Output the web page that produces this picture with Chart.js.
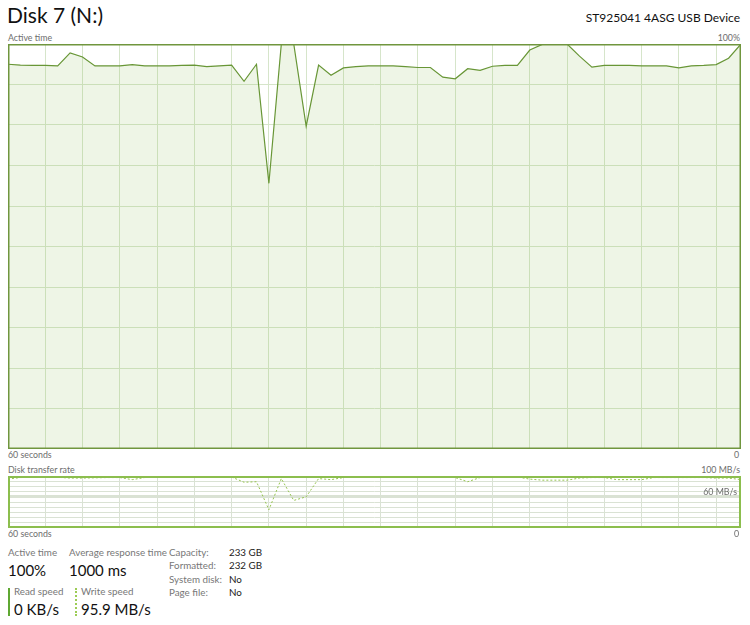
<!DOCTYPE html>
<html>
<head>
<meta charset="utf-8">
<script src="https://cdn.jsdelivr.net/npm/chart.js@4/dist/chart.umd.min.js"></script>
<style>
  body { margin: 0; width: 750px; height: 625px; background: #fff; position: relative; overflow: hidden;
         font-family: "Segoe UI", Lato, "Open Sans", sans-serif; }
  .t { position: absolute; white-space: nowrap; line-height: 1; }
  .small { font-size: 8.8px; color: #6d6d6d; }
  .lab { font-size: 9.8px; color: #777; }
  .val { font-size: 15px; color: #111; }
  .info { font-size: 9.8px; color: #222; }
  canvas { position: absolute; }
</style>
</head>
<body>
<div class="t" style="left:7px;top:4px;font-size:21px;color:#111;">Disk 7 (N:)</div>
<div class="t" style="right:10px;top:12px;font-size:12px;color:#111;">ST925041 4ASG USB Device</div>

<div class="t small" style="left:8px;top:34px;">Active time</div>
<div class="t small" style="right:10px;top:34px;">100%</div>
<canvas id="activeChart" width="733" height="405" style="left:8px;top:44px;"></canvas>
<div class="t small" style="left:8px;top:451px;">60 seconds</div>
<div class="t small" style="right:11px;top:451px;">0</div>

<div class="t small" style="left:8px;top:466px;">Disk transfer rate</div>
<div class="t small" style="right:10px;top:466px;">100 MB/s</div>
<canvas id="rateChart" width="733" height="52" style="left:8px;top:476px;"></canvas>
<div class="t small" style="right:13px;top:488px;">60 MB/s</div>
<div class="t small" style="left:8px;top:530px;">60 seconds</div>
<div class="t small" style="right:11px;top:530px;">0</div>

<div class="t lab" style="left:8px;top:548px;">Active time</div>
<div class="t val" style="left:8px;top:563px;">100%</div>
<div class="t lab" style="left:69px;top:548px;">Average response time</div>
<div class="t val" style="left:69px;top:563px;">1000 ms</div>

<div style="position:absolute;left:8px;top:588px;width:0;height:28px;border-left:2px solid #5fa832;"></div>
<div class="t lab" style="left:14px;top:587px;">Read speed</div>
<div class="t val" style="left:14px;top:602px;">0 KB/s</div>
<div style="position:absolute;left:75px;top:588px;width:0;height:28px;border-left:2px dotted #9ccc55;"></div>
<div class="t lab" style="left:81px;top:587px;">Write speed</div>
<div class="t val" style="left:81px;top:602px;">95.9 MB/s</div>

<div class="t lab" style="left:169px;top:548px;">Capacity:</div>
<div class="t info" style="left:229px;top:548px;">233 GB</div>
<div class="t lab" style="left:169px;top:561px;">Formatted:</div>
<div class="t info" style="left:229px;top:561px;">232 GB</div>
<div class="t lab" style="left:169px;top:575px;">System disk:</div>
<div class="t info" style="left:229px;top:575px;">No</div>
<div class="t lab" style="left:169px;top:588px;">Page file:</div>
<div class="t info" style="left:229px;top:588px;">No</div>

<script>
// 60 one-second samples, oldest first
const seconds = Array.from({length: 60}, (_, i) => i);

const activeTime = [
  95.0, 94.8, 94.7, 94.7, 94.6, 97.8, 96.8, 94.6, 94.6, 94.6,
  94.9, 94.6, 94.6, 94.6, 94.7, 94.8, 94.4, 94.6, 94.8, 90.8,
  95.0, 65.6, 100, 100, 79.7, 94.8, 92.3, 94.1, 94.4, 94.6,
  94.6, 94.6, 94.4, 94.2, 94.2, 91.8, 91.4, 93.9, 93.5, 94.5,
  94.7, 94.7, 98.5, 99.9, 100, 100, 97.0, 94.3, 94.7, 94.7,
  94.7, 94.6, 94.6, 94.6, 94.1, 94.6, 94.7, 94.9, 96.5, 100
];

// MB/s
const writeSpeed = [
  94, 97, 97.5, 97.5, 97.5, 96, 96, 96.5, 97, 97,
  93, 97, 97.5, 97.5, 97.5, 97.5, 97.5, 97.5, 98, 88,
  89, 35, 95, 53, 60, 95, 93, 97, 98, 98,
  98, 98, 98, 98, 98, 98, 97, 89, 97, 98,
  98, 98, 94, 92, 92, 92, 96, 97, 97, 93,
  93, 93, 97, 97, 97, 97, 97, 96, 96, 93
];
const readSpeed = seconds.map(() => 0);

const frame = {
  id: 'frame',
  afterDraw(chart, args, opts) {
    const a = chart.chartArea, c = chart.ctx, w = opts.width;
    c.save();
    c.strokeStyle = opts.color;
    c.lineWidth = w;
    c.strokeRect(a.left + w / 2, a.top + w / 2, a.right - a.left - w, a.bottom - a.top - w);
    c.restore();
  }
};

function axes(gridColor, yStep, yLineWidth) {
  return {
    x: {
      type: 'linear', min: 0, max: 59,
      ticks: { display: false, stepSize: 3 },
      grid: { color: gridColor, drawTicks: false },
      border: { display: false }
    },
    y: {
      min: 0, max: 100,
      ticks: { display: false, stepSize: yStep },
      grid: { color: gridColor, drawTicks: false, lineWidth: yLineWidth },
      border: { display: false }
    }
  };
}

const common = {
  responsive: false,
  animation: false,
  devicePixelRatio: 1,
  layout: { padding: 0 },
  elements: { point: { radius: 0 }, line: { tension: 0 } },
  plugins: { legend: { display: false }, tooltip: { enabled: false } }
};

new Chart(document.getElementById('activeChart'), {
  type: 'line',
  data: {
    datasets: [{
      label: 'Active time',
      data: seconds.map((s, i) => ({ x: s, y: activeTime[i] })),
      borderColor: 'rgb(104,150,54)',
      backgroundColor: 'rgba(148,195,102,0.16)',
      borderWidth: 1.2,
      fill: 'origin'
    }]
  },
  options: Object.assign({}, common, {
    scales: axes('rgb(214,229,202)', 10, 1),
    plugins: Object.assign({}, common.plugins, { frame: { color: 'rgb(112,150,62)', width: 1.5 } })
  }),
  plugins: [frame]
});

new Chart(document.getElementById('rateChart'), {
  type: 'line',
  data: {
    datasets: [{
      label: 'Write speed',
      data: seconds.map((s, i) => ({ x: s, y: writeSpeed[i] })),
      borderColor: 'rgb(150,196,80)',
      borderWidth: 1,
      borderDash: [2, 2],
      fill: false
    }, {
      label: 'Read speed',
      data: seconds.map((s, i) => ({ x: s, y: readSpeed[i] })),
      borderColor: 'rgb(95,168,50)',
      borderWidth: 1,
      fill: false
    }]
  },
  options: Object.assign({}, common, {
    scales: axes('rgb(218,226,212)', 10, ctx => ctx.tick && ctx.tick.value === 60 ? 3 : 1),
    plugins: Object.assign({}, common.plugins, { frame: { color: 'rgb(140,190,78)', width: 2 } })
  }),
  plugins: [frame]
});
</script>
</body>
</html>
